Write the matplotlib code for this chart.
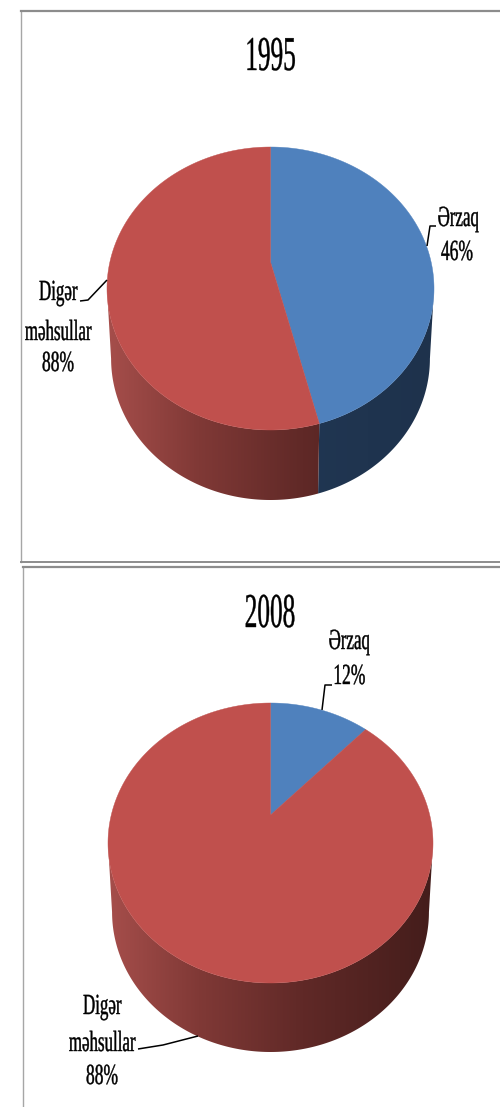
import numpy as np
import matplotlib
matplotlib.use("Agg")
import matplotlib.pyplot as plt
from matplotlib.patches import Polygon
from matplotlib.patheffects import AbstractPathEffect
from matplotlib.transforms import Affine2D

# ---- data ----
years = ["1995", "2008"]
categories = ["Ərzaq", "Digər məhsullar"]
shares_1995 = [46, 54]
shares_2008 = [12, 88]
labels_1995 = ["Ərzaq\n46%", "Digər\nməhsullar\n88%"]
labels_2008 = ["Ərzaq\n12%", "Digər\nməhsullar\n88%"]

# ---- style / layout ----
W, H = 500, 1107
TOP = ["#4F81BD", "#C0504D"]
FONT = "Liberation Serif"
SHADE_POS = [0.0, 0.28, 0.6, 1.0]
SHADE = [
    [(33, 58, 90), (33, 56, 86), (32, 54, 82), (30, 50, 76)],
    [(166, 78, 75), (128, 57, 54), (96, 41, 39), (68, 29, 27)],
]


class Squeeze(AbstractPathEffect):
    """Narrows glyphs horizontally about the centre of the text line."""

    def __init__(self, sx, weight=0.3):
        super().__init__()
        self.sx = sx
        self.weight = weight

    def draw_path(self, renderer, gc, tpath, affine, rgbFace=None):
        ext = tpath.get_extents()
        mid = (ext.x0 + ext.x1) / 2
        squeeze = Affine2D().translate(-mid, 0).scale(self.sx, 1).translate(mid, 0)
        gc0 = renderer.new_gc()
        gc0.copy_properties(gc)
        gc0.set_linewidth(self.weight)
        gc0.set_foreground("black")
        renderer.draw_path(gc0, tpath, squeeze + affine, rgbFace)
        gc0.restore()


def rim(theta, geo):
    """Perspective projection of a rim point; theta is clockwise from the top."""
    cx, ay, back, front, half = geo
    p = (back - front) / (back + front)
    a = front * (1 + p)
    b = half * np.sqrt(1 - p * p)
    u, v = np.sin(theta), -np.cos(theta)
    w = 1 + p * v
    return cx + b * u / w, ay + a * v / w, v, -p


def draw_pie(ax, shares, geo, depth, side_scale=0.975):
    cx, ay, back, front, half = geo
    edges = np.radians(np.concatenate([[0], np.cumsum(shares)]) / np.sum(shares) * 360)
    xlim, ylim = ax.get_xlim(), ax.get_ylim()
    for i in range(len(shares)):
        th = np.linspace(edges[i], edges[i + 1], 500)
        x, y, v, vis = rim(th, geo)
        keep = v >= vis
        if keep.sum() > 1:
            tx, ty = x[keep], y[keep]
            bx = cx + (tx - cx) * side_scale
            by = ty + depth
            outline = np.c_[np.r_[tx, bx[::-1]], np.r_[ty, by[::-1]]]
            t = np.linspace(0, 1, 400)
            grad = np.stack([np.interp(t, SHADE_POS, [c[j] for c in SHADE[i]]) / 255
                             for j in range(3)], axis=-1)[None, :, :]
            im = ax.imshow(grad, extent=(cx - half, cx + half, by.max() + 2, ty.min() - 2),
                           aspect="auto", interpolation="bilinear", zorder=2)
            patch = Polygon(outline, closed=True, transform=ax.transData,
                            fc="none", ec="none")
            ax.add_patch(patch)
            im.set_clip_path(patch)
        ax.fill(np.r_[cx, x], np.r_[ay, y], color=TOP[i], lw=0.3, zorder=3)
    ax.set_xlim(xlim)
    ax.set_ylim(ylim)


def put_text(ax, x, y, s, size, sx):
    ax.text(x, y, s, family=FONT, fontsize=size, ha="center", va="center",
            color="black", path_effects=[Squeeze(sx)], zorder=5)


def leader(ax, xs, ys):
    ax.plot(xs, ys, color="black", lw=1.1, solid_capstyle="butt", zorder=4)


fig = plt.figure(figsize=(W / 100, H / 100), dpi=100, facecolor="white")


def panel(x0, y0, x1, y1):
    ax = fig.add_axes([x0 / W, 1 - y1 / H, (x1 - x0) / W, (y1 - y0) / H])
    ax.set_xlim(x0, x1)
    ax.set_ylim(y1, y0)
    ax.set_xticks([])
    ax.set_yticks([])
    ax.patch.set_alpha(0)
    ax.spines["right"].set_visible(False)
    for name, lw, c in [("left", 1.0, "#a6a6a6"), ("top", 1.6, "#8c8c8c"), ("bottom", 1.4, "#8c8c8c")]:
        ax.spines[name].set_linewidth(lw)
        ax.spines[name].set_color(c)
    return ax


# ---- 1995 ----
ax1 = panel(21, 11, 501, 562)
draw_pie(ax1, shares_1995, (270.5, 262, 115, 168, 163.5), 70)
put_text(ax1, 270, 58, years[0], 35, 0.52)
e, o = labels_1995
e = e.split("\n")
o = o.split("\n")
put_text(ax1, 458, 219, e[0], 21, 0.58)
put_text(ax1, 457, 253, e[1], 21, 0.6)
put_text(ax1, 58, 293, o[0], 21, 0.58)
put_text(ax1, 58, 333, o[1], 21, 0.58)
put_text(ax1, 58, 364, o[2], 21, 0.6)
leader(ax1, [427, 430, 436], [246, 226, 226])
leader(ax1, [107, 88, 80], [280, 300, 301])

# ---- 2008 ----
ax2 = panel(23, 567, 501, 1110)
draw_pie(ax2, shares_2008, (270.5, 815, 112, 168, 162.5), 69)
put_text(ax2, 270, 615, years[1], 35, 0.52)
e, o = labels_2008
e = e.split("\n")
o = o.split("\n")
put_text(ax2, 349, 642, e[0], 21, 0.58)
put_text(ax2, 349, 677, e[1], 21, 0.6)
put_text(ax2, 102, 1007, o[0], 21, 0.58)
put_text(ax2, 102, 1044, o[1], 21, 0.58)
put_text(ax2, 102, 1077, o[2], 21, 0.6)
leader(ax2, [322, 325, 332], [710, 685, 685])
leader(ax2, [198, 163, 138], [1036, 1045, 1049])

fig.savefig("out.png", dpi=100)
